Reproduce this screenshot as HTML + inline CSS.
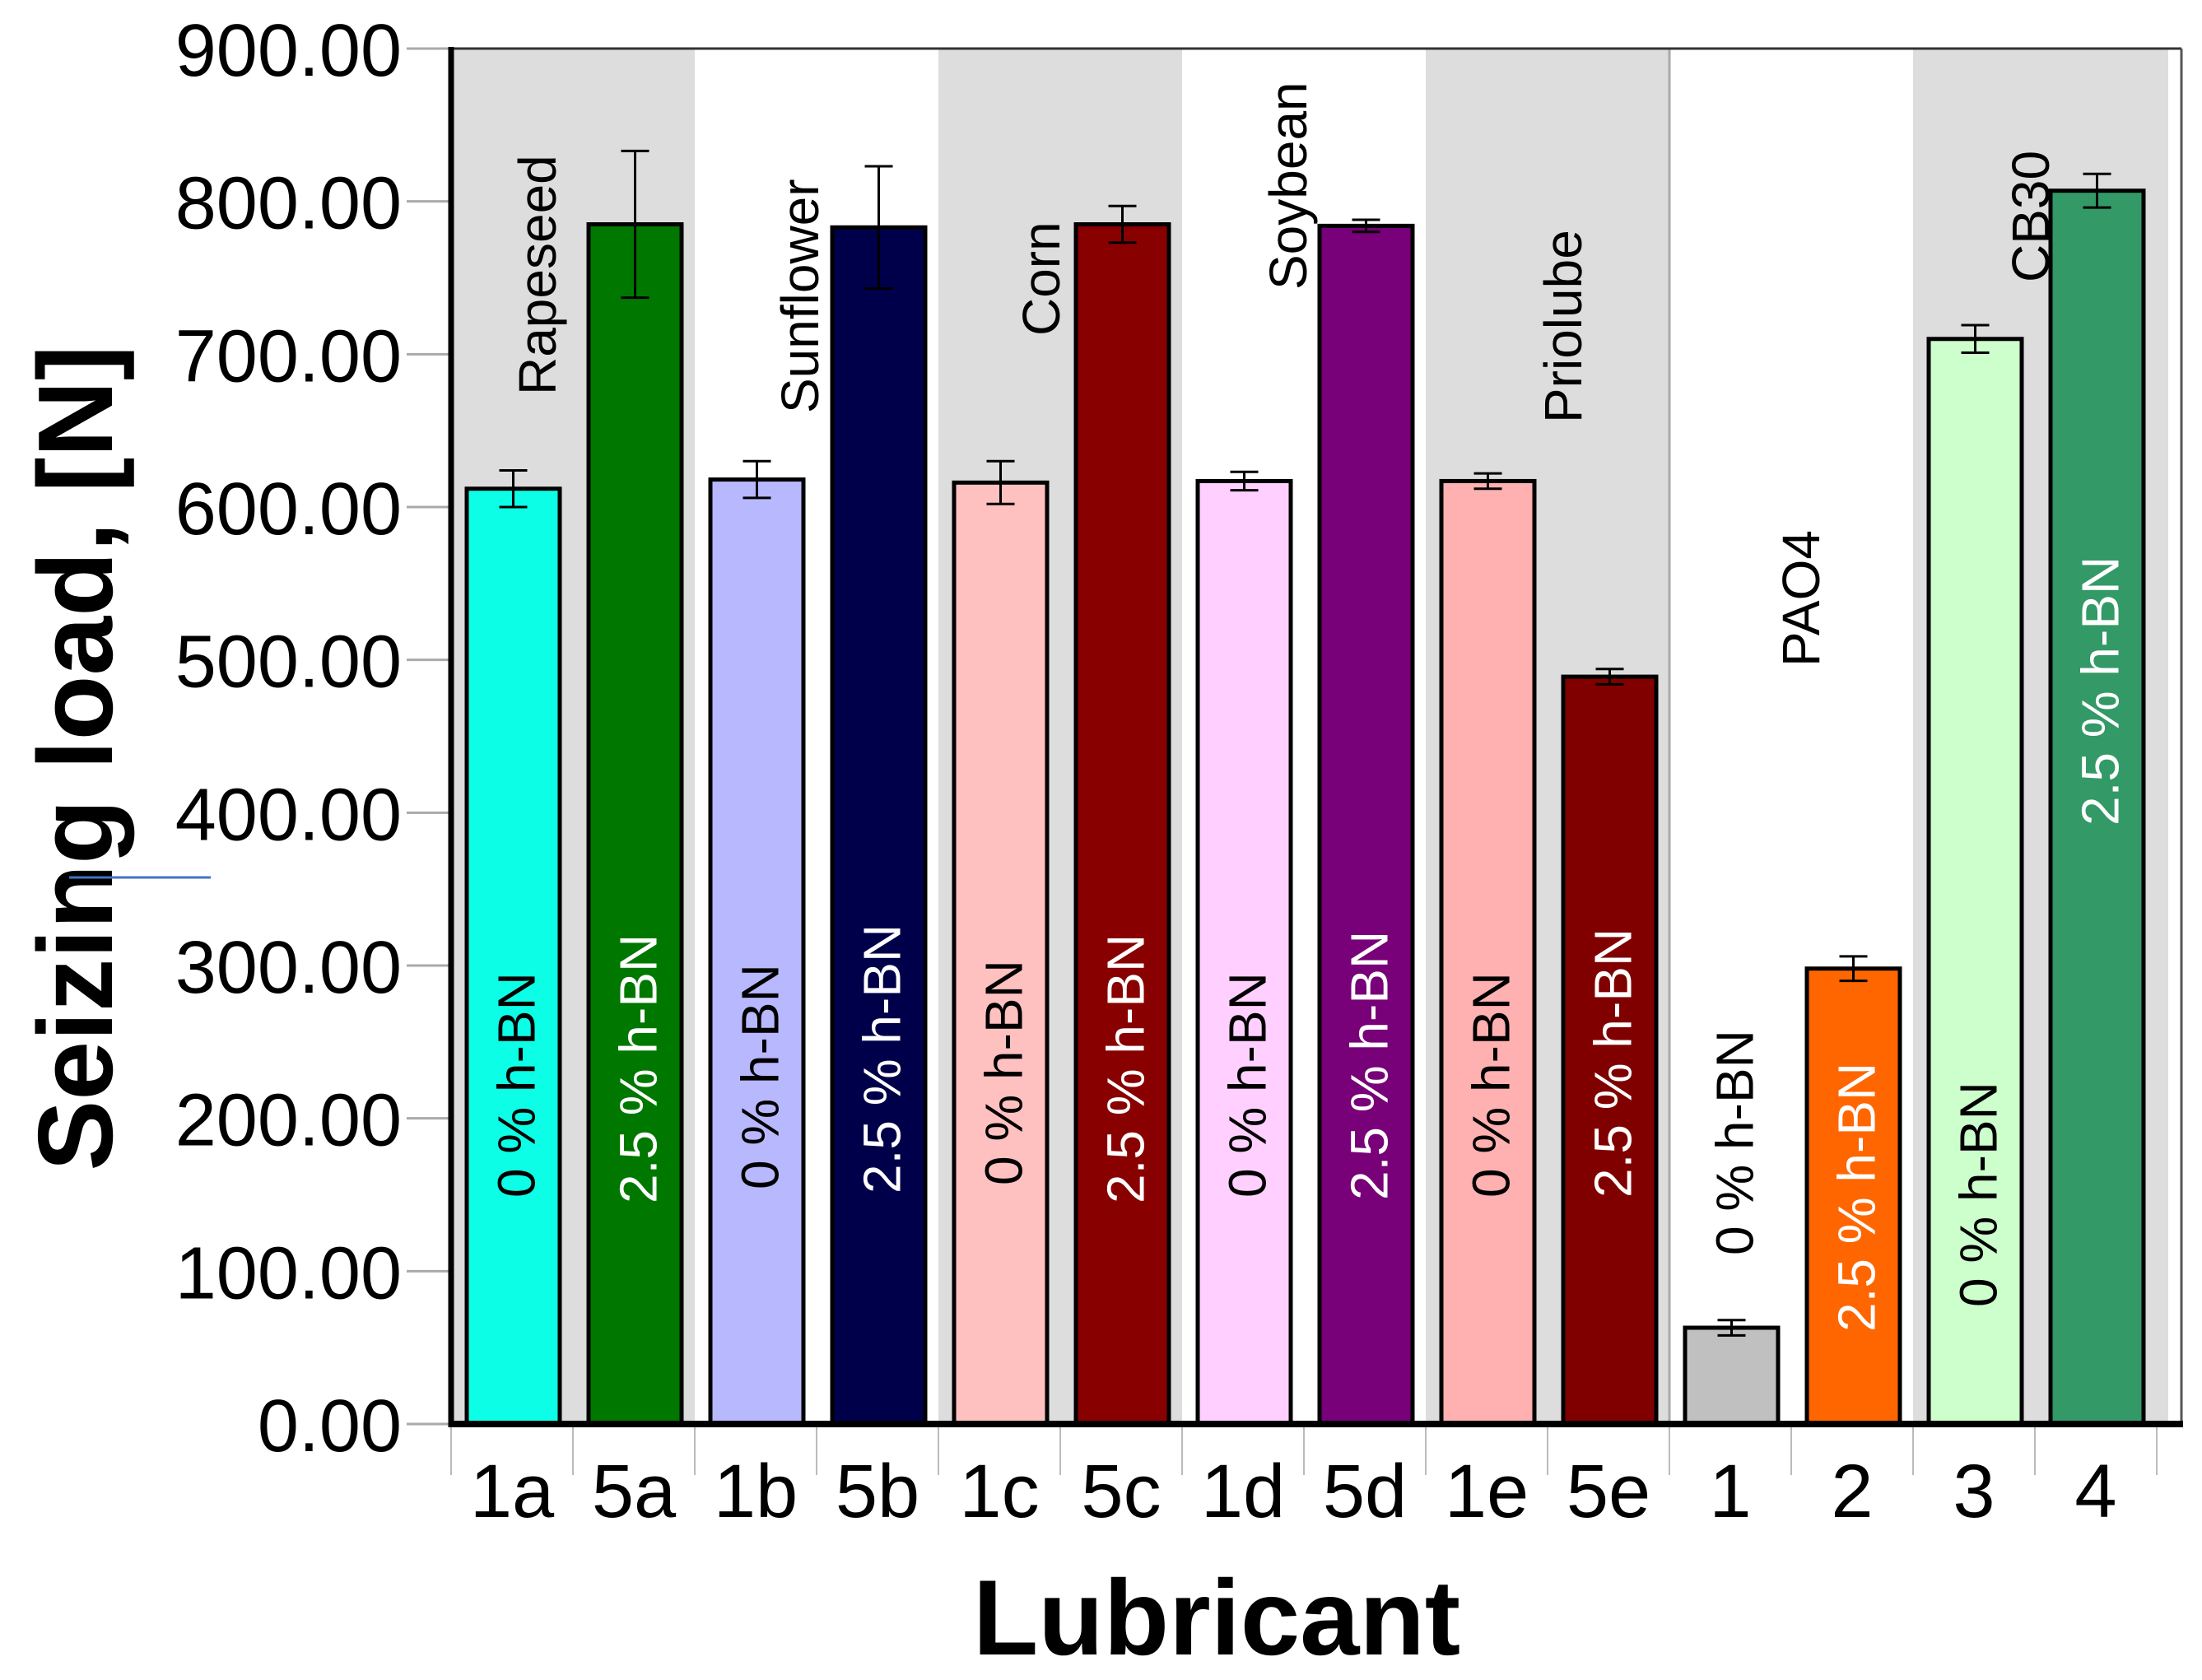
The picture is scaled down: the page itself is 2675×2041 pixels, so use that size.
<!DOCTYPE html>
<html><head><meta charset="utf-8"><style>
html,body{margin:0;padding:0;background:#fff}
svg{display:block}
text{font-family:"Liberation Sans",Arial,sans-serif}
</style></head><body>
<svg id="chart" width="2675" height="2041" viewBox="0 0 2675 2041" xmlns="http://www.w3.org/2000/svg">
<g id="bands"></g><g id="grid"></g><g id="bars"></g><g id="labels"></g><g id="axes"></g>
</svg>
<script>
const categories = ["1a","5a","1b","5b","1c","5c","1d","5d","1e","5e","1","2","3","4"];
const values = [612,785,618,783,616,785,617,784,617,489,63,298,710,807];
const errors = [12,48,12,40,14,12,6,4,5,5,5,8,9,11];
const colors = ["#0cffe6","#007800","#b8b8ff","#00004a","#ffc0c0","#880000","#ffd0ff","#780078","#ffb0b0","#800000","#c0c0c0","#ff6600","#ccffcc","#339966"];
const barTexts = ["0 % h-BN","2.5 % h-BN","0 % h-BN","2.5 % h-BN","0 % h-BN","2.5 % h-BN","0 % h-BN","2.5 % h-BN","0 % h-BN","2.5 % h-BN","0 % h-BN","2.5 % h-BN","0 % h-BN","2.5 % h-BN"];
const groupNames = ["Rapeseed","Sunflower","Corn","Soybean","Priolube","PAO4","CB30"];
const yTicks = [0,100,200,300,400,500,600,700,800,900];
const yTickLabels = ["0.00","100.00","200.00","300.00","400.00","500.00","600.00","700.00","800.00","900.00"];

const NS="http://www.w3.org/2000/svg";
const X0=548, SLOT=148.0, Y0=1730, YTOP=59, YMAX=900, RIGHT=2650;
function y(v){return Y0-(v/YMAX)*(Y0-YTOP);}
function xs(i){return X0+i*SLOT;}
function mk(tag,attrs,parent){const e=document.createElementNS(NS,tag);for(const k in attrs)e.setAttribute(k,attrs[k]);parent.appendChild(e);return e;}
const bandsG=document.getElementById('bands'),gridG=document.getElementById('grid'),barsG=document.getElementById('bars'),labelsG=document.getElementById('labels'),axesG=document.getElementById('axes');

const groupStart=[0,2,4,6,8,10,12];
const groupShade=[true,false,true,false,true,false,true];
groupStart.forEach((s,g)=>{
  const x1=xs(s), x2 = g===6? RIGHT-16 : xs(s+2);
  if(groupShade[g]){
    const r=mk('rect',{x:x1,y:YTOP,width:x2-x1,height:Y0-YTOP,fill:'#dddddd'},bandsG);
    
    
  }
});
const sep=mk('line',{x1:xs(10),y1:YTOP,x2:xs(10),y2:Y0,stroke:'#aaaaaa','stroke-width':3},bandsG);



for(let i=0;i<=14;i++){
  const l=mk('line',{x1:xs(i),y1:Y0,x2:xs(i),y2:1792,stroke:'#bbbbbb','stroke-width':2},gridG);
  
  
}

const lightBars=[0,2,4,6,8,10,12];
const textBottoms=[1455,1462,1445,1450,1440,1462,1455,1458,1455,1455,1525,1618,1588,1003];
values.forEach((v,i)=>{
  const bx=xs(i)+19, bw=113;
  const r=mk('rect',{x:bx,y:y(v),width:bw,height:Y0-y(v),fill:colors[i],stroke:'#000','stroke-width':5},barsG);
  
  
  const cx=bx+bw/2, e=errors[i];
  const eg=mk('g',{stroke:'#000','stroke-width':3},barsG);
  
  
  mk('line',{x1:cx,y1:y(v+e),x2:cx,y2:y(v-e)},eg);
  mk('line',{x1:cx-17,y1:y(v+e),x2:cx+17,y2:y(v+e)},eg);
  mk('line',{x1:cx-17,y1:y(v-e),x2:cx+17,y2:y(v-e)},eg);
  const dark = lightBars.indexOf(i)>=0;
  const t=mk('text',{x:0,y:0,transform:`translate(${cx+26},${textBottoms[i]}) rotate(-90)`,'font-size':64,fill:dark?'#000':'#fff'},labelsG);
  t.textContent=barTexts[i];
  
  
  const c=mk('text',{x:xs(i)+SLOT/2,y:1843,'font-size':92,'text-anchor':'middle',fill:'#000'},labelsG);
  c.textContent=categories[i];
  
  
});

const gnX=[652,971,1264,1564,1898,2187,2466];
const gnY=[480,502,408,352,514,810,343];
groupNames.forEach((n,g)=>{
  const t=mk('text',{x:0,y:0,transform:`translate(${gnX[g]+23},${gnY[g]}) rotate(-90)`,'font-size':64,fill:'#000'},labelsG);
  t.textContent=n;
  
  
});

yTicks.forEach((v,i)=>{
  const l=mk('line',{x1:494,y1:y(v),x2:X0,y2:y(v),stroke:'#aaaaaa','stroke-width':3},axesG);
  
  
  const t=mk('text',{x:488,y:y(v)+33,'font-size':90,'text-anchor':'end',fill:'#000'},axesG);
  t.textContent=yTickLabels[i];
  
  
});

const topBorder=mk('line',{x1:X0,y1:YTOP,x2:RIGHT,y2:YTOP,stroke:'#333','stroke-width':3},axesG);


const rightBorder=mk('line',{x1:RIGHT,y1:YTOP,x2:RIGHT,y2:Y0,stroke:'#555','stroke-width':3},axesG);


const yAxisLine=mk('line',{x1:X0,y1:YTOP-2,x2:X0,y2:Y0+4,stroke:'#000','stroke-width':7},axesG);


const xAxisLine=mk('line',{x1:X0-3,y1:Y0,x2:RIGHT+2,y2:Y0,stroke:'#000','stroke-width':8},axesG);



const xTitle=mk('text',{x:1478,y:2010,'font-size':130,'font-weight':'bold','text-anchor':'middle',fill:'#000'},axesG);
xTitle.textContent='Lubricant';


const yTitle=mk('text',{x:0,y:0,transform:'translate(136,921) rotate(-90)','font-size':129,'font-weight':'bold','text-anchor':'middle',fill:'#000'},axesG);
yTitle.textContent='Seizing load, [N]';


const strayLine=mk('line',{x1:84,y1:1066,x2:256,y2:1066,stroke:'#4472c4','stroke-width':3},axesG);


</script>
</body></html>
